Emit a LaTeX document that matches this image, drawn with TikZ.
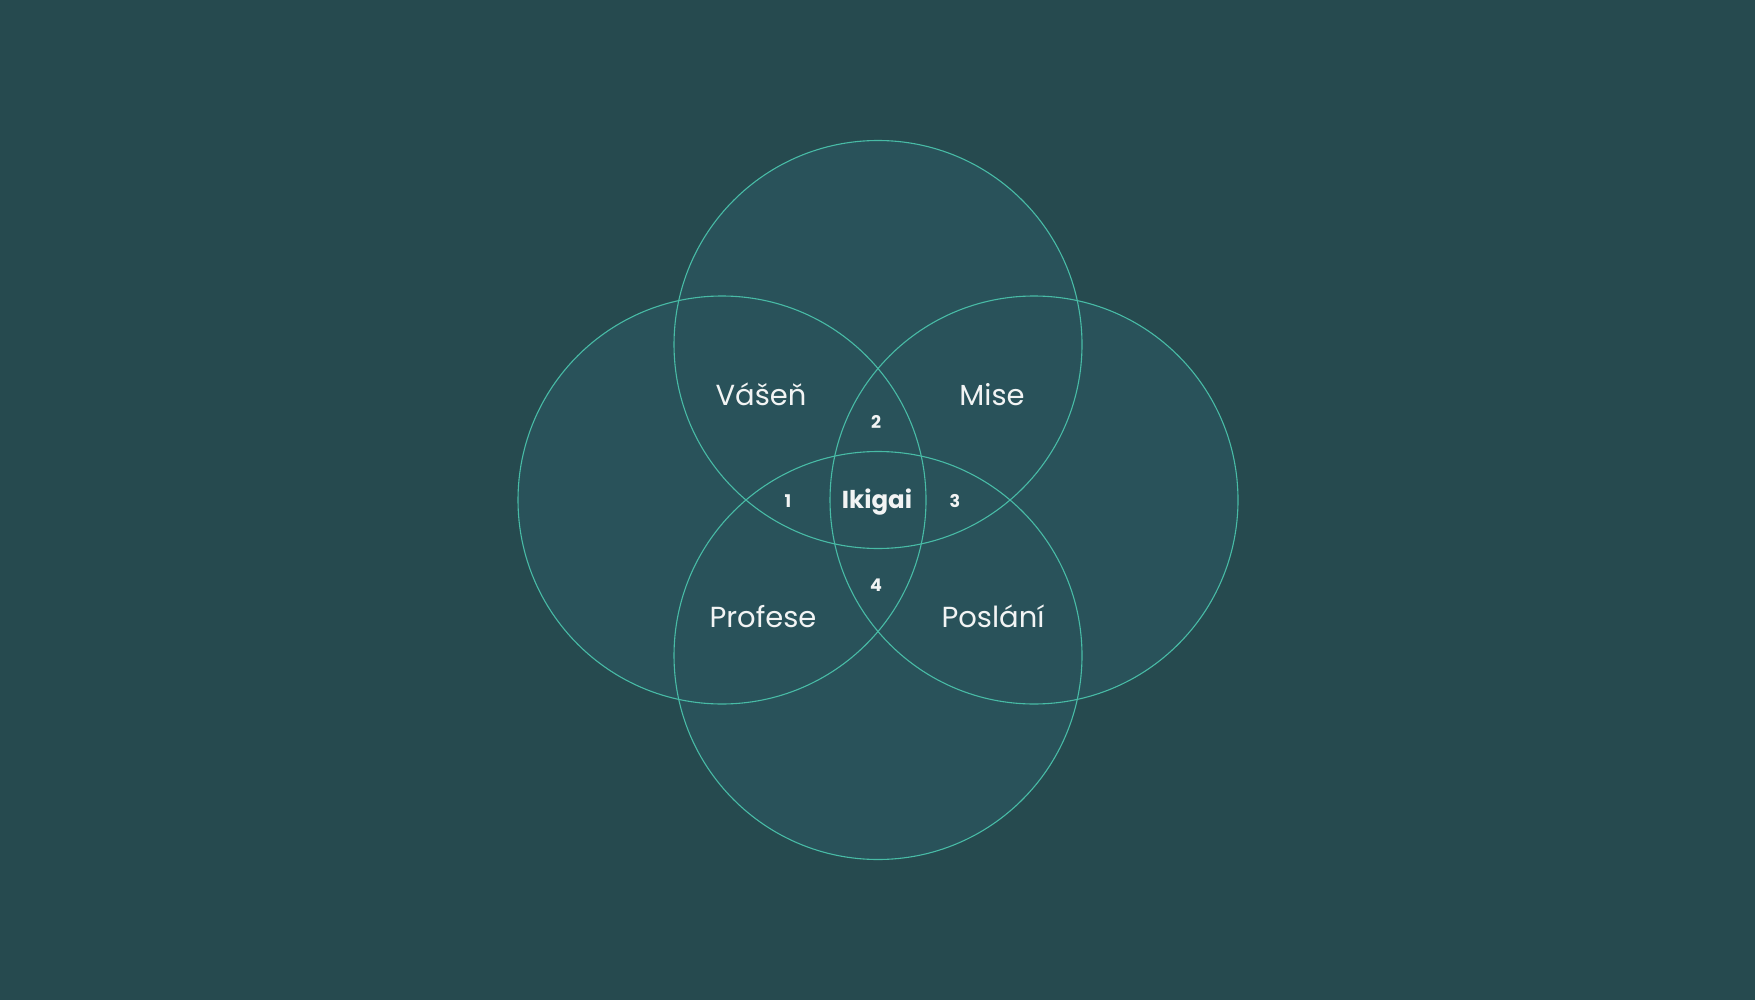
\documentclass[tikz,border=0pt]{standalone}
\usepackage{fontspec}
\setmainfont{Poppins}
\definecolor{bg}{HTML}{264A4F}
\definecolor{cfill}{HTML}{29525A}
\definecolor{cline}{HTML}{48BBA6}
\definecolor{txt}{HTML}{F2F4F4}
\begin{document}
\begin{tikzpicture}[x=1pt,y=-1pt,
  ring/.style={draw=cline,line width=1.1pt},
  label/.style={text=txt,font=\fontsize{29}{32}\selectfont,inner sep=0pt},
  num/.style={text=txt,font=\fontsize{17.5}{20}\selectfont\bfseries,inner sep=0pt},
  core/.style={text=txt,font=\fontsize{24.5}{28}\selectfont\bfseries,inner sep=0pt}]
\fill[bg] (0,0) rectangle (1755,1000);
\useasboundingbox (0,0) rectangle (1755,1000);
\coordinate (cl) at (722,500);
\coordinate (cr) at (1034,500);
\coordinate (ct) at (878,344.5);
\coordinate (cb) at (878,655.5);
\fill[cfill] (cl) circle[radius=204];
\fill[cfill] (cr) circle[radius=204];
\fill[cfill] (ct) circle[radius=204];
\fill[cfill] (cb) circle[radius=204];
\draw[ring] (cl) circle[radius=204];
\draw[ring] (cr) circle[radius=204];
\draw[ring] (ct) circle[radius=204];
\draw[ring] (cb) circle[radius=204];
\node[label] (vasen) at (761,394) {Vášeň};
\node[label] (mise) at (992,395) {Mise};
\node[label] (profese) at (763,617) {Profese};
\node[label] (poslani) at (993,616) {Poslání};
\node[core] (ikigai) at (877,502) {Ikigai};
\node[num] (n1) at (788,501) {1};
\node[num] (n2) at (876,422) {2};
\node[num] (n3) at (955,501) {3};
\node[num] (n4) at (876,585) {4};
\end{tikzpicture}
\end{document}
